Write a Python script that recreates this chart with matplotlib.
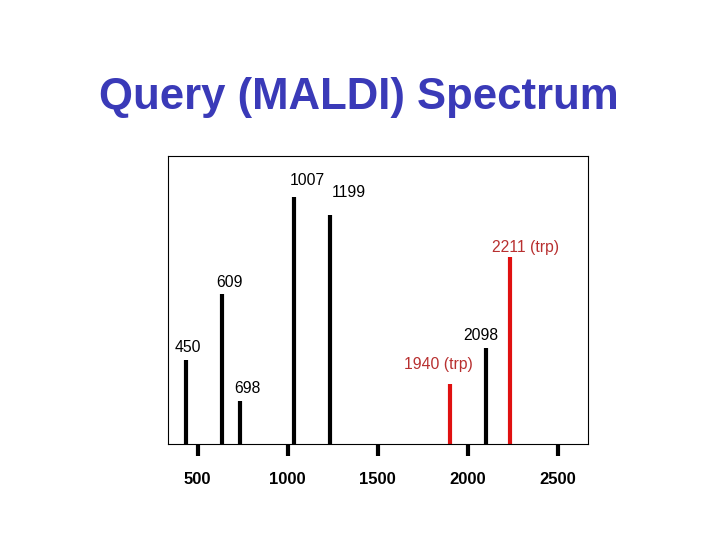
import matplotlib
matplotlib.use("Agg")
import matplotlib.pyplot as plt

plt.rcParams['font.family'] = ['Liberation Sans', 'DejaVu Sans']

# peak positions (m/z as drawn) and relative intensity
peak_mz = [433, 633, 733, 1035, 1235, 1902, 2102, 2233]
peak_int = [84, 150, 43, 247, 229, 60, 96, 187]
peak_labels = ['450', '609', '698', '1007', '1199', '1940 (trp)', '2098', '2211 (trp)']
is_trp = [False, False, False, False, False, True, False, True]

xticks = [500, 1000, 1500, 2000, 2500]

# label offsets from the top of each peak, in pixels
label_dx = [2, 8, 8, 13, 19, -12, -5.5, 16]
label_dy = [13, 11.5, 13, 16.7, 22.7, 19.5, 13, 10]

fig = plt.figure(figsize=(7.2, 5.4), dpi=100)
ax = fig.add_axes([168.3 / 720, 1 - 444.3 / 540, 420 / 720, 288.3 / 540])

for mz, h, lab, trp, dx, dy in zip(peak_mz, peak_int, peak_labels, is_trp, label_dx, label_dy):
    line_col = '#e01010' if trp else 'black'
    text_col = '#b83030' if trp else 'black'
    ax.vlines(mz, 0, h, color=line_col, linewidth=3.0, capstyle='butt')
    ax.annotate(lab, xy=(mz, h), xytext=(dx, dy), textcoords='offset pixels',
                ha='center', va='center', fontsize=11.3, color=text_col)

ax.set_xlim(336.7, 2670)
ax.set_ylim(0, 288.3)
ax.set_xticks(xticks)
ax.set_xticklabels([str(t) for t in xticks], fontsize=12, fontweight='bold')
ax.tick_params(axis='x', direction='out', length=8.8, width=3.0, pad=11)
ax.set_yticks([])
for s in ax.spines.values():
    s.set_linewidth(0.8)

fig.text(359 / 720, 1 - 97 / 540, 'Query (MALDI) Spectrum', ha='center', va='center',
         fontsize=31.5, fontweight='bold', color='#3a3ab8')

fig.savefig('out.png', dpi=100)
